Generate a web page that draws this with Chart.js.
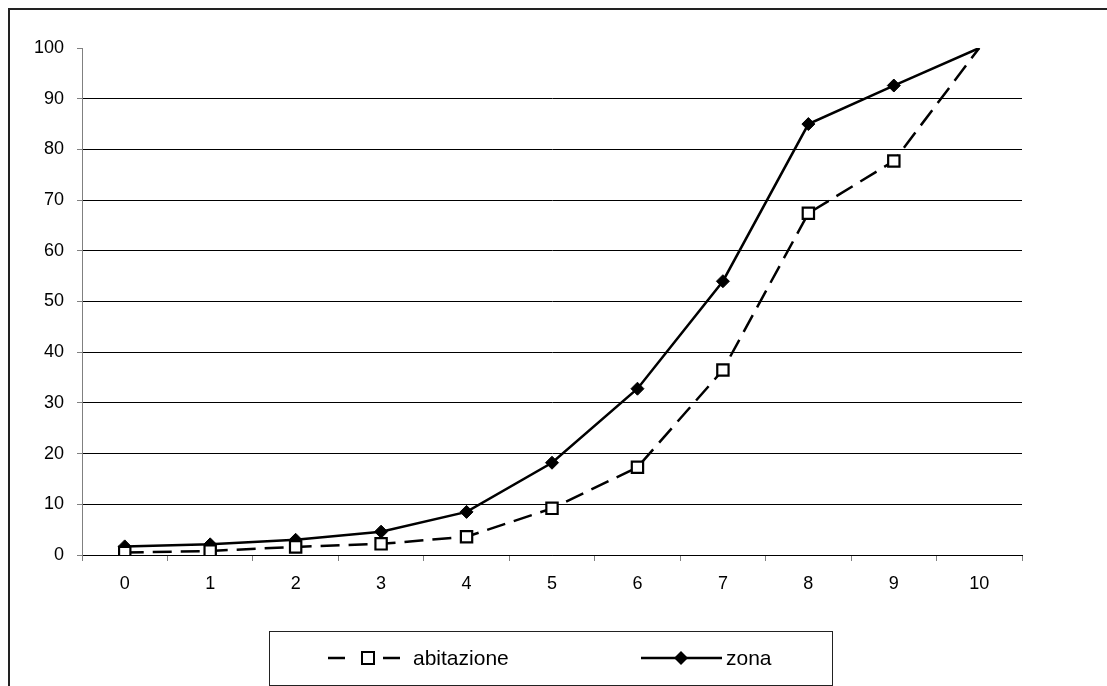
<!DOCTYPE html>
<html>
<head>
<meta charset="utf-8">
<script src="https://cdn.jsdelivr.net/npm/chart.js@4"></script>
<style>
  html, body { margin: 0; padding: 0; background: #fff; }
  #wrap { width: 1107px; height: 686px; position: relative; }
</style>
</head>
<body>
<div id="wrap"><canvas id="c" width="1107" height="686"></canvas></div>
<script>
// Categories on the x axis
const categories = ['0', '1', '2', '3', '4', '5', '6', '7', '8', '9', '10'];

// Series values (percent)
const abitazione = [0.5, 0.8, 1.6, 2.2, 3.6, 9.2, 17.3, 36.5, 67.4, 77.7, 100];
const zona = [1.7, 2.1, 3.0, 4.6, 8.5, 18.2, 32.8, 54.0, 85.0, 92.6, 100];

// Series names
const seriesNames = ['abitazione', 'zona'];

// Y axis range
const yMin = 0;
const yMax = 100;
const yStep = 10;

const FONT = 'Liberation Sans, Arial, sans-serif';
const lastIdx = categories.length - 1;

// Outer frame (top and left edges)
const framePlugin = {
  id: 'frame',
  afterDraw(chart) {
    const ctx = chart.ctx;
    ctx.save();
    ctx.strokeStyle = '#222';
    ctx.lineWidth = 2;
    ctx.beginPath();
    ctx.moveTo(1107, 9);
    ctx.lineTo(9, 9);
    ctx.lineTo(9, 686);
    ctx.stroke();
    ctx.restore();
  }
};

// Boxed legend under the axis
const boxLegendPlugin = {
  id: 'boxLegend',
  afterDraw(chart) {
    const ctx = chart.ctx;
    const box = { x: 269, y: 631, w: 563, h: 54 };
    const cy = box.y + box.h / 2;
    ctx.save();
    ctx.fillStyle = '#fff';
    ctx.fillRect(box.x, box.y, box.w, box.h);
    ctx.strokeStyle = '#222';
    ctx.lineWidth = 1;
    ctx.strokeRect(box.x + 0.5, box.y + 0.5, box.w, box.h);

    const ds = chart.data.datasets;
    ctx.font = '21px ' + FONT;
    ctx.textBaseline = 'middle';
    ctx.fillStyle = '#000';

    // abitazione: dashed sample with open square
    ctx.strokeStyle = '#000';
    ctx.lineWidth = 2.5;
    ctx.beginPath();
    ctx.moveTo(328, cy); ctx.lineTo(345, cy);
    ctx.moveTo(383, cy); ctx.lineTo(400, cy);
    ctx.stroke();
    ctx.lineWidth = 2;
    ctx.fillStyle = '#fff';
    ctx.fillRect(362, cy - 6, 12, 12);
    ctx.strokeRect(362, cy - 6, 12, 12);
    ctx.fillStyle = '#000';
    ctx.fillText(ds[0].label, 413, cy + 1);

    // zona: solid sample with filled diamond
    ctx.lineWidth = 2.5;
    ctx.beginPath();
    ctx.moveTo(641, cy); ctx.lineTo(722, cy);
    ctx.stroke();
    ctx.beginPath();
    ctx.moveTo(681, cy - 7); ctx.lineTo(688, cy); ctx.lineTo(681, cy + 7); ctx.lineTo(674, cy);
    ctx.closePath();
    ctx.fill();
    ctx.fillText(ds[1].label, 726, cy + 1);
    ctx.restore();
  }
};

new Chart(document.getElementById('c'), {
  type: 'line',
  data: {
    labels: categories,
    datasets: [
      {
        label: seriesNames[0],
        data: abitazione,
        borderColor: '#000',
        borderWidth: 2.5,
        borderDash: [19, 9],
        pointStyle: 'rect',
        pointRadius: (c) => c.dataIndex === lastIdx ? 0 : 8,
        pointBackgroundColor: '#fff',
        pointBorderColor: '#000',
        pointBorderWidth: 2.2,
        tension: 0
      },
      {
        label: seriesNames[1],
        data: zona,
        borderColor: '#000',
        borderWidth: 2.5,
        pointStyle: 'rectRot',
        pointRadius: (c) => c.dataIndex === lastIdx ? 0 : 6.5,
        pointBackgroundColor: '#000',
        pointBorderColor: '#000',
        pointBorderWidth: 1,
        tension: 0
      }
    ]
  },
  options: {
    responsive: false,
    animation: false,
    devicePixelRatio: 1,
    layout: { padding: { left: 0, top: 48, right: 85, bottom: 0 } },
    plugins: {
      legend: { display: false },
      tooltip: { enabled: false }
    },
    scales: {
      x: {
        type: 'category',
        offset: true,
        afterFit(s) { s.height = 131; },
        grid: {
          offset: true,
          drawOnChartArea: false,
          drawTicks: true,
          tickLength: 6,
          tickColor: '#808080'
        },
        border: { display: true, color: '#000', width: 1 },
        ticks: {
          color: '#000',
          font: { family: FONT, size: 18 },
          padding: 12,
          maxRotation: 0
        }
      },
      y: {
        min: yMin,
        max: yMax,
        afterFit(s) { s.width = 82; },
        grid: {
          color: (c) => (c.tick && c.tick.value === yMax) ? 'rgba(0,0,0,0)' : '#000',
          lineWidth: 1,
          drawTicks: true,
          tickLength: 5,
          tickColor: '#808080'
        },
        border: { display: true, color: '#808080', width: 1 },
        ticks: {
          stepSize: yStep,
          color: '#000',
          font: { family: FONT, size: 18 },
          padding: 13
        }
      }
    }
  },
  plugins: [framePlugin, boxLegendPlugin]
});
</script>
</body>
</html>
